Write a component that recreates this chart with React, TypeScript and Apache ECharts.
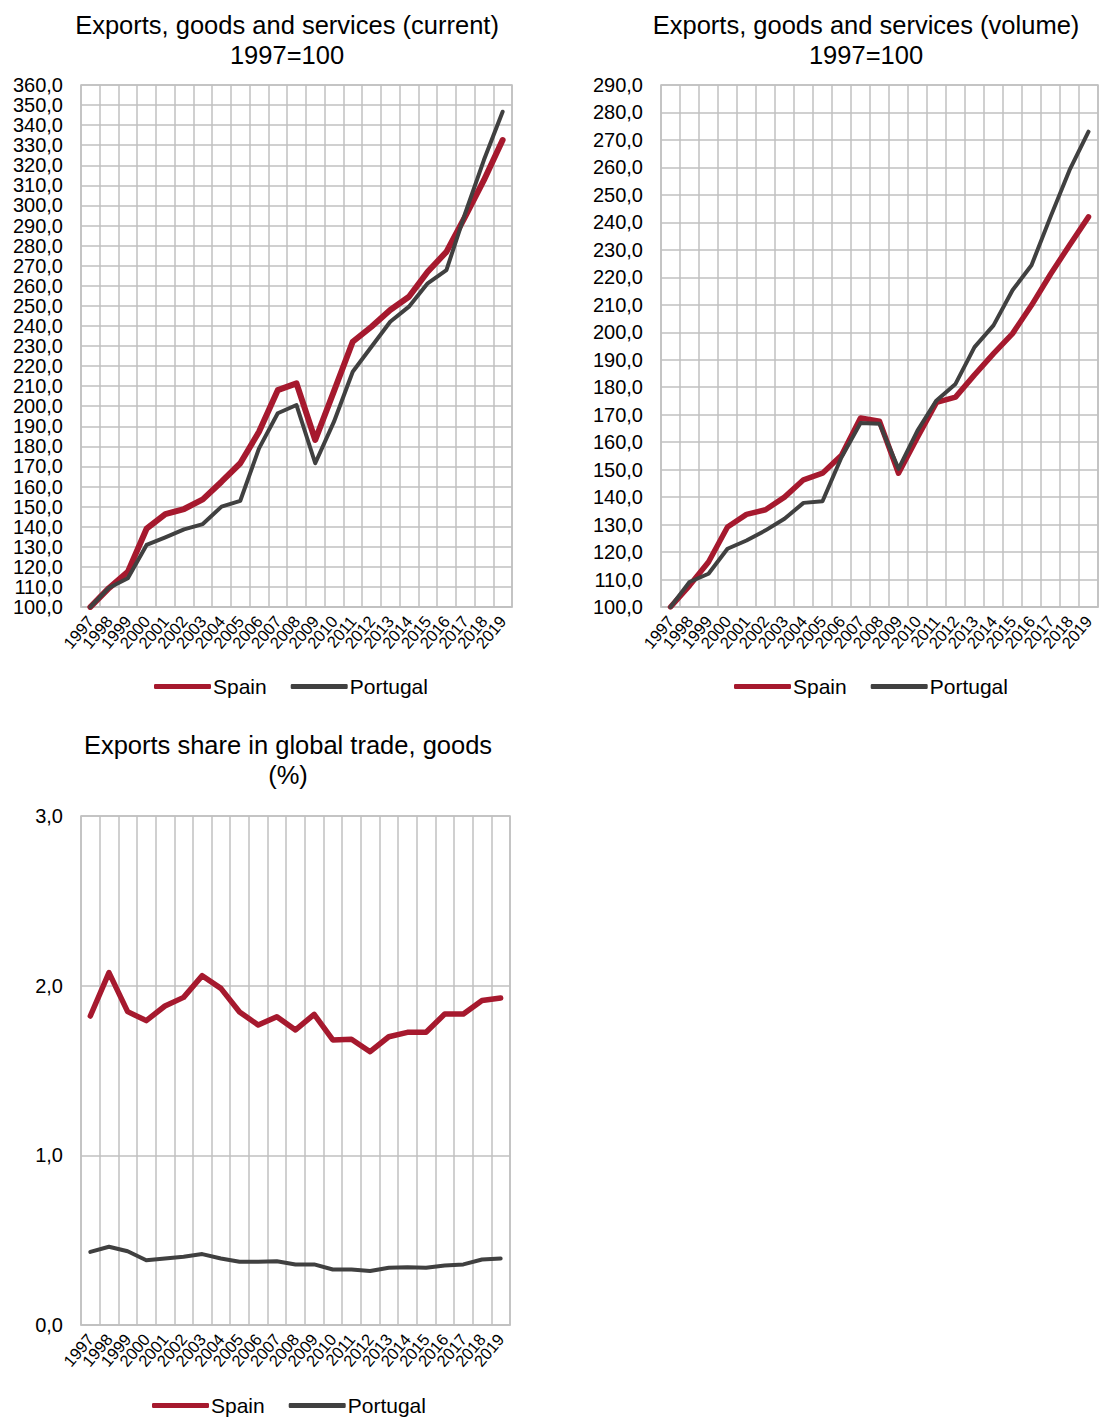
import React, { useEffect, useRef } from "react";
import * as echarts from "echarts";

const years = ["1997","1998","1999","2000","2001","2002","2003","2004","2005","2006","2007","2008","2009","2010","2011","2012","2013","2014","2015","2016","2017","2018","2019"];

const spainCurrent = [100, 109.5, 117.5, 139, 146.3, 148.8, 153.6, 162.4, 171.6, 187.3, 208, 211.4, 183.2, 207.5, 232.1, 239.6, 247.9, 254.5, 267, 276.9, 294.4, 312.6, 332.6];
const portugalCurrent = [100, 109.6, 114.3, 130.9, 134.7, 138.7, 141.3, 150, 152.9, 179, 196.5, 200.6, 171.6, 192.3, 217.2, 229.6, 242.1, 249.6, 261.2, 267.8, 296, 322.6, 346.7];

const spainVolume = [100, 107.8, 116.4, 129.1, 133.7, 135.4, 140, 146.3, 148.7, 155.2, 168.8, 167.6, 148.7, 161.8, 174.5, 176.4, 184.5, 192.2, 199.5, 209.8, 221.1, 231.7, 242];
const portugalVolume = [100, 109.1, 112.1, 121.2, 124.2, 127.9, 132.1, 137.9, 138.5, 154.5, 167, 166.7, 150.3, 164.2, 175.2, 181.2, 194.6, 202.5, 215.3, 224.4, 242, 259, 273];

const spainShare = [1.821, 2.077, 1.847, 1.794, 1.88, 1.931, 2.059, 1.984, 1.845, 1.768, 1.817, 1.739, 1.831, 1.68, 1.684, 1.611, 1.699, 1.725, 1.725, 1.833, 1.833, 1.912, 1.927];
const portugalShare = [0.431, 0.461, 0.435, 0.382, 0.392, 0.402, 0.418, 0.392, 0.373, 0.373, 0.376, 0.357, 0.357, 0.327, 0.327, 0.318, 0.337, 0.341, 0.337, 0.351, 0.357, 0.386, 0.392];

const titles = [
  "Exports, goods and services (current)\n1997=100",
  "Exports, goods and services (volume)\n1997=100",
  "Exports share in global trade, goods\n(%)",
];

const RED = "#A6192E";
const DARK = "#404040";
const GRIDC = "#C0C0C0";
const FONT = "'Liberation Sans', Arial, sans-serif";

export default function App() {
  const ref = useRef<HTMLDivElement>(null);
  useEffect(() => {
    if (!ref.current) return;
    const chart = echarts.init(ref.current, undefined, { renderer: "svg" });
    const fmt = (v: number) => v.toFixed(1).replace(".", ",");
    const grids = [
      { left: 81, top: 85, width: 431, height: 522 },
      { left: 661, top: 85, width: 437, height: 522 },
      { left: 81, top: 816, width: 429, height: 509 },
    ];
    const yRanges = [
      { min: 100, max: 360, interval: 10 },
      { min: 100, max: 290, interval: 10 },
      { min: 0, max: 3, interval: 1 },
    ];
    const option: any = {
      animation: false,
      backgroundColor: "#fff",
      textStyle: { fontFamily: FONT },
      grid: grids.map((g) => ({ ...g, show: true, borderColor: GRIDC, borderWidth: 1.5, backgroundColor: "transparent" })),
      xAxis: grids.map((_, i) => ({
        type: "category",
        gridIndex: i,
        data: years,
        boundaryGap: true,
        axisLine: { show: true, lineStyle: { color: GRIDC, width: 1.5 } },
        axisTick: { show: false },
        splitLine: { show: true, interval: 0, lineStyle: { color: GRIDC, width: 1.5 } },
        axisLabel: { interval: 0, rotate: 50, fontSize: 16.5, color: "#000", margin: 11, fontFamily: FONT },
      })),
      yAxis: yRanges.map((r, i) => ({
        type: "value",
        gridIndex: i,
        min: r.min,
        max: r.max,
        interval: r.interval,
        axisLine: { show: false },
        axisTick: { show: false },
        splitLine: { show: true, lineStyle: { color: GRIDC, width: 1.5 } },
        axisLabel: { fontSize: 20, color: "#000", margin: 18, formatter: fmt, fontFamily: FONT },
      })),
      legend: [
        { left: 154, top: 676 },
        { left: 734, top: 676 },
        { left: 152, top: 1395 },
      ].map((p) => ({
        ...p,
        padding: 0,
        data: ["Spain", "Portugal"],
        icon: "roundRect",
        itemWidth: 57,
        itemHeight: 5,
        itemGap: 24,
        selectedMode: false,
        textStyle: { fontSize: 21, color: "#000", fontFamily: FONT, padding: [0, 0, 0, -3] },
      })),
      graphic: [
        { type: "text", x: 287, y: 10, style: { text: titles[0], fontSize: 25.5, fontFamily: FONT, fill: "#000", align: "center", lineHeight: 30 } },
        { type: "text", x: 866, y: 10, style: { text: titles[1], fontSize: 25.5, fontFamily: FONT, fill: "#000", align: "center", lineHeight: 30 } },
        { type: "text", x: 288, y: 730, style: { text: titles[2], fontSize: 25.5, fontFamily: FONT, fill: "#000", align: "center", lineHeight: 30 } },
      ],
      series: [
        { name: "Spain", type: "line", xAxisIndex: 0, yAxisIndex: 0, data: spainCurrent, symbol: "none", color: RED, lineStyle: { width: 6, color: RED, cap: "round", join: "round" } },
        { name: "Portugal", type: "line", xAxisIndex: 0, yAxisIndex: 0, data: portugalCurrent, symbol: "none", color: DARK, lineStyle: { width: 4, color: DARK, cap: "round", join: "round" } },
        { name: "Spain", type: "line", xAxisIndex: 1, yAxisIndex: 1, data: spainVolume, symbol: "none", color: RED, lineStyle: { width: 5.5, color: RED, cap: "round", join: "round" } },
        { name: "Portugal", type: "line", xAxisIndex: 1, yAxisIndex: 1, data: portugalVolume, symbol: "none", color: DARK, lineStyle: { width: 4, color: DARK, cap: "round", join: "round" } },
        { name: "Spain", type: "line", xAxisIndex: 2, yAxisIndex: 2, data: spainShare, symbol: "none", color: RED, lineStyle: { width: 5.5, color: RED, cap: "round", join: "round" } },
        { name: "Portugal", type: "line", xAxisIndex: 2, yAxisIndex: 2, data: portugalShare, symbol: "none", color: DARK, lineStyle: { width: 4, color: DARK, cap: "round", join: "round" } },
      ],
    };
    chart.setOption(option);
    return () => chart.dispose();
  }, []);
  return <div ref={ref} style={{ position: "absolute", left: 0, top: 0, width: 1104, height: 1418 }} />;
}
